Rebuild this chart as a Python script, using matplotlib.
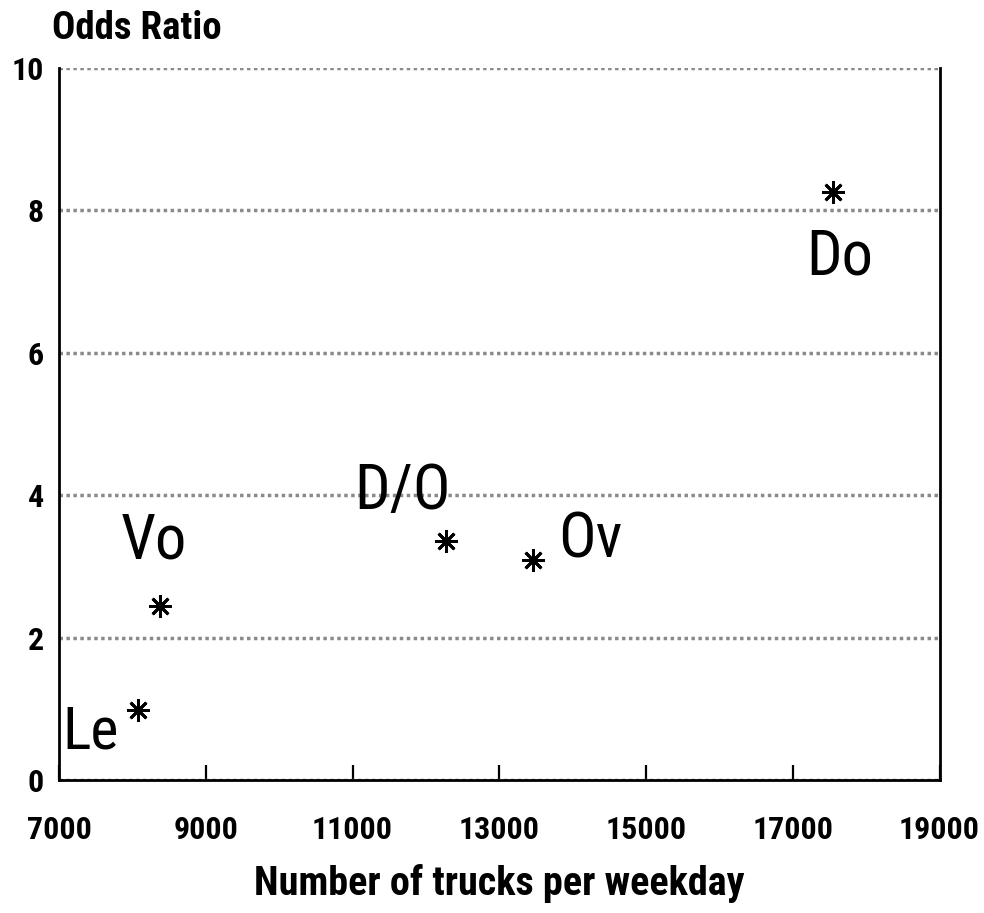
import matplotlib
matplotlib.use("Agg")
import matplotlib.pyplot as plt
from matplotlib.ticker import FixedLocator

plt.rcParams["font.family"] = ["Roboto Condensed", "Liberation Sans", "DejaVu Sans"]

# Odds ratio against truck traffic, one point per site
sites = ["Le", "Vo", "D/O", "Ov", "Do"]
trucks = [8070, 8370, 12270, 13460, 17550]
odds_ratio = [0.98, 2.44, 3.35, 3.09, 8.26]

# label placement relative to each point, in pixels (centre of the label, baseline)
label_offsets = [(-47, -38), (-6, 48), (-43, 32), (57, 2), (7, -83)]
label_sizes = [43, 45, 45, 45, 45]

x_ticks = [7000, 9000, 11000, 13000, 15000, 17000, 19000]
y_ticks = [0, 2, 4, 6, 8, 10]

fig = plt.figure(figsize=(9.84, 9.13), dpi=100)
ax = fig.add_axes([0.0600, 0.1457, 0.8948, 0.7798])

ax.plot(trucks, odds_ratio, linestyle="none", marker=(8, 2, 0),
        markersize=16, markeredgewidth=2.0, color="black", zorder=3)

for name, x, y, off, fs in zip(sites, trucks, odds_ratio, label_offsets, label_sizes):
    ax.annotate(name, (x, y), xytext=off, textcoords="offset pixels",
                ha="center", va="baseline", fontsize=fs, color="black")

ax.set_xlim(7000, 19000)
ax.set_ylim(0, 10)
ax.xaxis.set_major_locator(FixedLocator(x_ticks))
ax.yaxis.set_major_locator(FixedLocator(y_ticks))

# dotted horizontal grid
ax.yaxis.grid(True, color="#8a8a8a", linestyle=(0, (1, 1)), linewidth=2.5)
ax.xaxis.grid(False)
ax.set_axisbelow(True)

for side in ["left", "bottom", "right"]:
    ax.spines[side].set_linewidth(2.0)
    ax.spines[side].set_color("black")
ax.spines["top"].set_visible(False)

ax.tick_params(axis="x", direction="in", length=11, width=1.6, pad=25,
               labelsize=23)
ax.tick_params(axis="y", length=0, pad=11, labelsize=23)
for lbl in ax.get_xticklabels() + ax.get_yticklabels():
    lbl.set_fontweight("bold")

ax.set_xlabel("Number of trucks per weekday", fontsize=29, fontweight="bold",
              labelpad=14)
fig.text(0.053, 0.957, "Odds Ratio", fontsize=28, fontweight="bold",
         ha="left", va="baseline")

fig.savefig("out.png", dpi=100, facecolor="white")
